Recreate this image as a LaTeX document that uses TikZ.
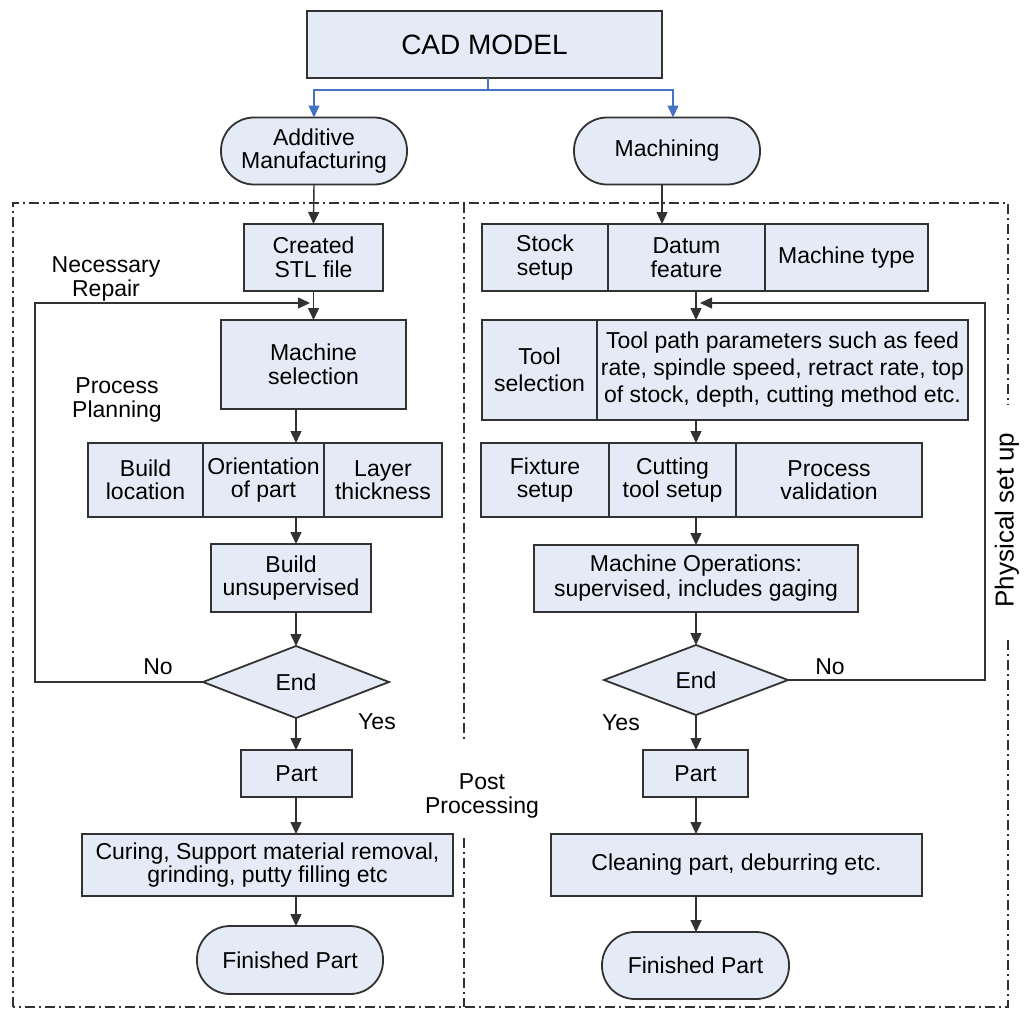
\documentclass[tikz,border=0pt]{standalone}
\usepackage{fontspec}
\setmainfont{Liberation Sans}
\usetikzlibrary{arrows.meta,shapes.geometric}
\definecolor{boxfill}{RGB}{228,235,246}
\definecolor{edge}{RGB}{50,50,50}
\definecolor{splitblue}{RGB}{68,114,196}
\newcommand{\txt}{\fontsize{23}{23.5}\selectfont}
\newcommand{\bigtxt}{\fontsize{28}{30}\selectfont}

\begin{document}
\begin{tikzpicture}[x=1pt,y=-1pt,
  every node/.style={inner sep=0pt, outer sep=0pt},
  box/.style={draw=edge, fill=boxfill, line width=1.8pt, align=center, font=\txt},
  pill/.style={box, rounded corners=33pt},
  decide/.style={box, diamond},
  tag/.style={align=center, font=\txt},
  conn/.style={draw=edge, line width=1.4pt, -{Triangle[length=12pt,width=11pt]}},
  blueconn/.style={draw=splitblue, line width=1.4pt, -{Triangle[length=12pt,width=11pt]}},
  frame/.style={draw=edge, line width=1.8pt, dash pattern=on 10pt off 4pt on 2pt off 4pt},
]
\useasboundingbox (0,0) rectangle (1024,1010);

% --- top of the chart
\node[box, font=\bigtxt, minimum width=355, minimum height=67] (cad) at (484.5,44.5) {CAD MODEL};
\node[pill, minimum width=186, minimum height=67] (am) at (314,151) {Additive\\Manufacturing};
\node[pill, minimum width=186, minimum height=67] (mach) at (667,151) {Machining};

\coordinate (split) at (488,90);
\coordinate (machin) at (673,0);
\draw[draw=splitblue, line width=1.4pt] (cad.south -| split) -- (split);
\draw[blueconn] (split) -| (am.north);
\draw[blueconn] (split) -| (mach.north -| machin);

% --- dash-dot frames
\draw[frame] (13,1007) -- (13,203) -- (1008,203) -- (1008,405);
\draw[frame] (1008,640) -- (1008,1007) -- (13,1007);
\draw[frame] (464,203) -- (464,742);
\draw[frame] (464,838) -- (464,1007);

% --- additive manufacturing branch
\coordinate (lc) at (296,0);
\node[box, minimum width=139, minimum height=67] (stl) at (313.5,257.5) {Created\\STL file};
\node[box, minimum width=185, minimum height=89] (msel) at (313.5,364.5) {Machine\\selection};
\node[box, minimum width=115, minimum height=74] (bl) at (145.5,480) {Build\\location};
\node[box, minimum width=121, minimum height=74] (op) at (263.5,480) {Orientation\\of part};
\node[box, minimum width=118, minimum height=74] (lt) at (383,480) {Layer\\thickness};
\node[box, minimum width=160, minimum height=68] (bu) at (291,578) {Build\\unsupervised};
\node[decide, minimum width=186, minimum height=72] (end1) at (296,682) {End};
\node[box, minimum width=111, minimum height=47] (part1) at (296.5,773.5) {Part};
\node[box, minimum width=371, minimum height=62] (cur) at (267.5,865) {Curing, Support material removal,\\grinding, putty filling etc};
\node[pill, minimum width=186, minimum height=68] (fin1) at (290,960) {Finished Part};

\draw[conn] (am.south) -- (stl.north);
\draw[conn] (stl.south) -- (msel.north);
\draw[conn] (msel.south -| lc) -- (op.north -| lc);
\draw[conn] (op.south -| lc) -- (bu.north -| lc);
\draw[conn] (bu.south -| lc) -- (end1.north);
\draw[conn] (end1.south) -- (part1.north -| lc);
\draw[conn] (part1.south -| lc) -- (cur.north -| lc);
\draw[conn] (cur.south -| lc) -- (fin1.north -| lc);

\coordinate (loopL) at (310,303);
\draw[conn] (end1.west) -| (35,303) -- (loopL);

\node[tag] (repair) at (106,279) {Necessary\\Repair};
\node[tag] (planning) at (117,400) {Process\\Planning};
\node[tag] (noL) at (158,667) {No};
\node[tag] (yesL) at (377,722) {Yes};

% --- machining branch
\coordinate (rc) at (696,0);
\coordinate (mc) at (662,0);
\node[box, minimum width=126, minimum height=67] (ss) at (545,257.5) {Stock\\setup};
\node[box, minimum width=157, minimum height=67] (df) at (686.5,257.5) {Datum\\feature};
\node[box, minimum width=163, minimum height=67] (mt) at (846.5,257.5) {Machine type};
\node[box, font=\fontsize{23}{27}\selectfont, minimum width=115, minimum height=100] (ts) at (539.5,370) {Tool\\selection};
\node[box, font=\fontsize{23}{27}\selectfont, minimum width=371, minimum height=100] (tp) at (782.5,370) {Tool path parameters such as feed\\rate, spindle speed, retract rate, top\\of stock, depth, cutting method etc.};
\node[box, minimum width=128, minimum height=74] (fs) at (545,480) {Fixture\\setup};
\node[box, minimum width=127, minimum height=74] (ct) at (672.5,480) {Cutting\\tool setup};
\node[box, minimum width=186, minimum height=74] (pv) at (829,480) {Process\\validation};
\node[box, font=\fontsize{23}{25}\selectfont, minimum width=324, minimum height=67] (mo) at (696,578.5) {Machine Operations:\\supervised, includes gaging};
\node[decide, minimum width=184, minimum height=70] (end2) at (696,680) {End};
\node[box, minimum width=105, minimum height=47] (part2) at (695.5,773.5) {Part};
\node[box, minimum width=371, minimum height=62] (clean) at (736.5,865) {Cleaning part, deburring etc.};
\node[pill, minimum width=187, minimum height=67] (fin2) at (695.5,965.5) {Finished Part};

\draw[conn] (mach.south -| mc) -- (df.north -| mc);
\draw[conn] (df.south -| rc) -- (tp.north -| rc);
\draw[conn] (tp.south -| rc) -- (ct.north -| rc);
\draw[conn] (ct.south -| rc) -- (mo.north);
\draw[conn] (mo.south) -- (end2.north);
\draw[conn] (end2.south) -- (part2.north -| rc);
\draw[conn] (part2.south -| rc) -- (clean.north -| rc);
\draw[conn] (clean.south -| rc) -- (fin2.north -| rc);

\coordinate (loopR) at (700,303);
\draw[conn] (end2.east) -| (985,303) -- (loopR);

\node[tag] (noR) at (830,667) {No};
\node[tag] (yesR) at (621,723) {Yes};

% --- side captions
\node[tag] (post) at (482,796) {Post\\Processing};
\node[tag, font=\fontsize{26}{28}\selectfont, rotate=90] (phys) at (1007,520) {Physical set up};
\end{tikzpicture}
\end{document}
